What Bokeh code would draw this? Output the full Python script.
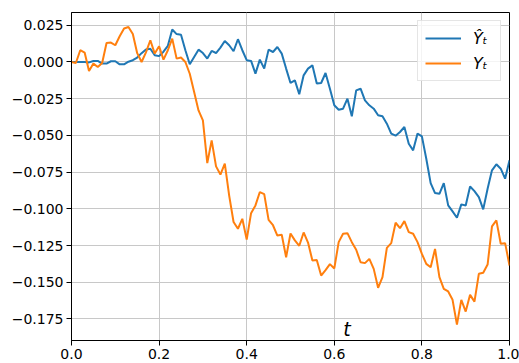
import numpy as np
from bokeh.plotting import figure
from bokeh.models import Range1d, FixedTicker, Legend, LegendItem, Label
from bokeh.embed import file_html
from bokeh.resources import INLINE

t = np.linspace(0.0, 1.0, 101)

y_hat = [
    0.0, 0.0, 0.0, 0.0, -0.0003, 0.0007, 0.0007, -0.0011, -0.0011, 0.0005,
    0.0005, -0.0016, -0.0016, 0.0002, 0.0012, 0.003, 0.006, 0.0085, 0.009, 0.0046,
    0.004, 0.007, 0.011, 0.0221, 0.019, 0.0185, 0.008, -0.0016, 0.0034, 0.0084,
    0.0061, 0.0023, 0.0075, 0.0061, 0.0098, 0.0143, 0.0114, 0.0073, 0.0155, 0.008,
    0.0012, 0.0007, -0.0079, 0.0016, -0.0045, 0.0084, 0.0068, 0.0102, 0.0057, -0.0045,
    -0.0143, -0.0125, -0.022, -0.0091, -0.0045, -0.0023, -0.0147, -0.0143, -0.0075, -0.0182,
    -0.0295, -0.0325, -0.0318, -0.025, -0.037, -0.0193, -0.0182, -0.0261, -0.0295, -0.0318,
    -0.0363, -0.037, -0.042, -0.0488, -0.0502, -0.0477, -0.0443, -0.0557, -0.0602, -0.0488,
    -0.0507, -0.0659, -0.0825, -0.0893, -0.0898, -0.0825, -0.0977, -0.1018, -0.1061, -0.097,
    -0.0977, -0.0848, -0.088, -0.092, -0.1004, -0.0863, -0.0738, -0.0697, -0.0727, -0.0795,
    -0.067,
]

y_true = [
    0.0, -0.0007, 0.008, 0.0064, -0.0061, -0.0011, -0.0034, -0.0007, 0.0129, 0.0132,
    0.0114, 0.0175, 0.0228, 0.0238, 0.019, 0.006, 0.0, 0.0065, 0.0148, 0.0057,
    0.0107, 0.0016, 0.008, 0.0159, 0.0023, 0.003, 0.0, -0.008, -0.0205, -0.033,
    -0.0398, -0.0689, -0.0534, -0.0711, -0.0767, -0.0693, -0.091, -0.109, -0.1136, -0.1068,
    -0.121, -0.103, -0.0977, -0.0886, -0.09, -0.1075, -0.1112, -0.1182, -0.1177, -0.133,
    -0.1168, -0.1215, -0.1252, -0.1161, -0.123, -0.1352, -0.1348, -0.1455, -0.1418, -0.1377,
    -0.1406, -0.1227, -0.117, -0.1166, -0.1227, -0.1279, -0.1364, -0.137, -0.1341, -0.1409,
    -0.1538, -0.1466, -0.1266, -0.1234, -0.1095, -0.1132, -0.1084, -0.1159, -0.117, -0.1227,
    -0.1307, -0.1375, -0.1398, -0.1273, -0.1466, -0.1545, -0.1563, -0.162, -0.1789, -0.162,
    -0.17, -0.1586, -0.1632, -0.1443, -0.1436, -0.138, -0.112, -0.1079, -0.1238, -0.1234,
    -0.1386,
]

x_ticks = [0.0, 0.2, 0.4, 0.6, 0.8, 1.0]
x_tick_labels = ["0.0", "0.2", "0.4", "0.6", "0.8", "1.0"]
y_ticks = [0.025, 0.0, -0.025, -0.05, -0.075, -0.1, -0.125, -0.15, -0.175]
y_tick_labels = ["0.025", "0.000", "\u22120.025", "\u22120.050", "\u22120.075",
                 "\u22120.100", "\u22120.125", "\u22120.150", "\u22120.175"]
series_labels = ["\u0176\u209c", "Y\u209c"]
x_label = "t"

FONT = "DejaVu Sans"

p = figure(width=519, height=363, output_backend="svg", toolbar_location=None,
           x_range=Range1d(0.0, 1.0), y_range=Range1d(-0.1897, 0.0337),
           min_border_left=71, min_border_right=10, min_border_top=12, min_border_bottom=23)

p.background_fill_color = "white"
p.border_fill_color = "white"
p.outline_line_color = "black"
p.outline_line_width = 1
p.outline_line_alpha = 1.0

p.grid.grid_line_color = "#c8c8c8"
p.grid.grid_line_width = 1

p.xaxis.ticker = FixedTicker(ticks=x_ticks)
p.yaxis.ticker = FixedTicker(ticks=y_ticks)
p.xaxis.major_label_overrides = dict(zip(x_ticks, x_tick_labels))
p.yaxis.major_label_overrides = dict(zip(y_ticks, y_tick_labels))

for ax in (p.xaxis, p.yaxis):
    ax.axis_line_color = "black"
    ax.axis_line_width = 1
    ax.major_tick_line_color = "black"
    ax.major_tick_in = 0
    ax.major_tick_out = 5
    ax.minor_tick_line_color = None
    ax.major_label_text_font = FONT
    ax.major_label_text_font_size = "14px"
    ax.major_label_text_color = "black"
    ax.major_label_standoff = 3

r1 = p.line(t, y_hat, line_color="#1f77b4", line_width=2)
r2 = p.line(t, y_true, line_color="#ff7f0e", line_width=2)

legend = Legend(items=[LegendItem(label=series_labels[0], renderers=[r1]),
                       LegendItem(label=series_labels[1], renderers=[r2])],
                location="top_right", margin=8, padding=7, spacing=5,
                glyph_width=36, glyph_height=20, label_height=20, label_standoff=12,
                label_text_font=FONT, label_text_font_style="italic",
                label_text_font_size="16px", label_text_color="black",
                border_line_color="#cccccc", border_line_width=1,
                background_fill_color="white", background_fill_alpha=0.8)
p.add_layout(legend)

p.add_layout(Label(x=0.629, y=-0.1816, text=x_label, text_font=FONT,
                   text_font_style="italic", text_font_size="19px",
                   text_align="center", text_baseline="middle",
                   text_color="black"))

open("out.html", "w").write(file_html(p, INLINE))
